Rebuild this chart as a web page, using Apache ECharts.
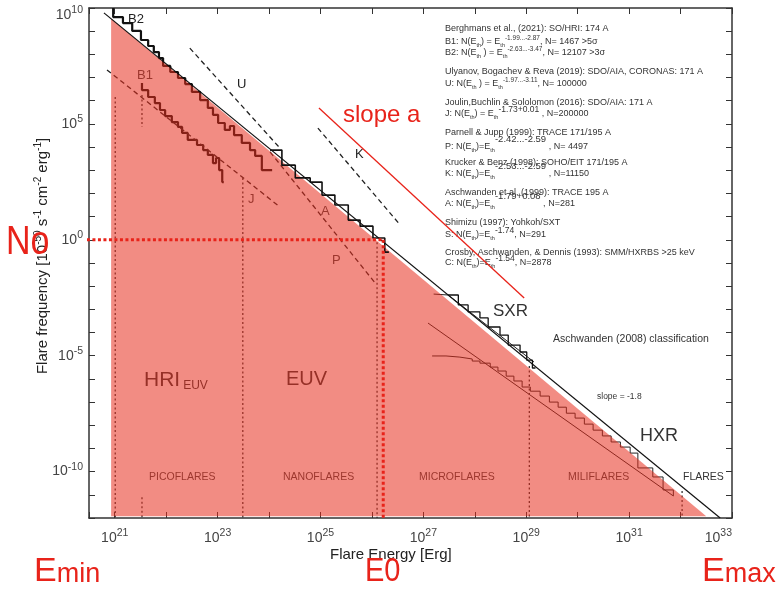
<!DOCTYPE html>
<html><head><meta charset="utf-8">
<script src="https://cdn.jsdelivr.net/npm/echarts@6/dist/echarts.min.js"></script>
<style>html,body{margin:0;padding:0;background:#fff}#c{width:776px;height:591px}</style>
</head><body><div id="c"></div>
<script>
// All values are log10 units: x = log10(E [erg]), y = log10(N)
const xTickLabels = [21, 23, 25, 27, 29, 31, 33];
const yTickLabels = [10, 5, 0, -5, -10];

// shaded power-law area  (Emin, Emax)
const fillE = [20.93, 20.93, 32.50];
const fillN = [-11.92, 9.55, -11.92];
// characteristic point
const E0 = 26.22, N0 = 0;
const EleftEdge = 20.46, Nbottom = -12;

// slope = -1.8 reference line
const refE = [20.79, 32.77];
const refN = [9.79, -12.0];
// red "slope a" line
const slopeAE = [24.97, 28.96];
const slopeAN = [5.69, -2.51];

// B2 histogram (bin left edges / values)
const b2E = [20.97,20.97,21.16,21.34,21.51,21.65,21.76,21.86,21.94,22.08,22.23,22.37,22.50,22.66,22.81,22.91,23.01,23.14,23.24,23.32,23.47,23.63,23.73,23.86,24.06];
const b2N = [10.0,9.61,9.35,9.01,8.62,8.36,8.10,7.84,7.50,7.24,6.98,6.72,6.38,6.03,5.69,5.39,5.04,4.74,4.91,4.52,4.18,3.87,3.62,3.01,3.01];
// B1 histogram
const b1E = [21.53,21.53,21.65,21.78,21.88,21.98,22.11,22.23,22.31,22.42,22.60,22.72,22.81,22.91,22.97,23.03,23.09,23.12];
const b1N = [6.76,6.46,6.16,5.90,5.60,5.34,5.08,4.87,4.61,4.31,4.09,3.87,3.66,3.31,3.53,3.01,2.49,2.49];
// A histogram
const aE = [24.02,24.25,24.51,24.80,25.03,25.28,25.54,25.77,26.02,26.25,26.33];
const aN = [3.87,3.22,2.67,2.49,1.93,1.50,0.85,0.59,0.08,-0.53,-0.53];
// SXR histogram and fit
const sxrE = [27.48,27.68,27.87,28.10,28.26,28.49,28.65,28.88,29.01,29.12,29.18];
const sxrN = [-2.38,-2.81,-3.11,-3.37,-3.76,-4.11,-4.54,-4.84,-5.19,-5.53,-5.53];
const sxrFitE = [27.20, 27.48, 29.15];
const sxrFitN = [-2.34, -2.38, -5.27];
// HXR histogram and C line
const hxrE = [27.17,27.44,27.71,27.95,28.10,28.30,28.45,28.61,28.76,28.92,29.08,29.27,29.45,29.62,29.78,29.95,30.13,30.30,30.48,30.65,30.83,31.02,31.17,31.46,31.66,31.86];
const hxrN = [-5.01,-5.06,-5.14,-5.23,-5.32,-5.49,-5.66,-5.88,-6.09,-6.35,-6.53,-6.74,-7.00,-7.22,-7.48,-7.69,-7.95,-8.21,-8.46,-8.72,-8.94,-9.20,-9.84,-10.23,-10.79,-11.05];
const cE = [27.09, 31.86];
const cN = [-3.59, -11.05];
// dashed power laws
const uE = [22.46, 24.21], uN = [8.27, 3.96];
const kE = [24.95, 26.55], kN = [4.82, 0.64];
const jE = [20.85, 24.21], jN = [7.33, 1.42];
const pE = [24.02, 26.08], pN = [3.79, -1.91];
// dotted vertical boundaries
const vdE   = [21.01, 21.53, 21.53, 23.49, 26.10, 29.06, 32.03];
const vdTop = [6.16, 6.25, -11.10, 2.67, -0.10, -5.44, -10.84];
const vdBot = [-12, 4.87, -12, -12, -12, -12, -12];

const FF = 'Liberation Sans, Arial, Helvetica, sans-serif';
const INK = '#333';
const RED = '#e8231a';

function pl(E, N, lineStyle, z, extra) {
  return Object.assign({
    type: 'line', data: E.map((e, i) => [e, N[i]]), symbol: 'none', showSymbol: false,
    silent: true, animation: false, z: z, lineStyle: lineStyle
  }, extra || {});
}

const series = [];
// under-fill items (z 2)
series.push(pl(b2E, b2N, {color:'#111', width:2.2}, 2, {step:'end'}));
series.push(pl(b1E, b1N, {color:'#111', width:2.2}, 2, {step:'end'}));
series.push(pl(hxrE, hxrN, {color:'#222', width:1}, 2, {step:'end'}));
series.push(pl(cE, cN, {color:'#222', width:1}, 2));
series.push(pl(sxrFitE, sxrFitN, {color:'#222', width:1}, 2));
series.push(pl(jE, jN, {color:'#222', width:1.3, type:[5,3.5]}, 2));
series.push(pl(pE, pN, {color:'#222', width:1.3, type:[5,3.5]}, 2));
series.push(pl(uE, uN, {color:'#222', width:1.3, type:[5,3.5]}, 2));
series.push(pl(kE, kN, {color:'#222', width:1.3, type:[5,3.5]}, 2));
vdE.forEach((e, i) => {
  series.push(pl([e, e], [vdTop[i], vdBot[i]], {color:'#333', width:1.3, type:[2,2.5]}, 2));
});
// fill
series.push({
  type: 'custom', z: 3, silent: true, animation: false,
  data: [[fillE[0], fillN[0]]], encode: {x: 0, y: 1},
  renderItem: (params, api) => ({
    type: 'polygon',
    shape: {points: fillE.map((e, i) => api.coord([e, fillN[i]]))},
    style: {fill: 'rgba(231,46,30,0.55)'}
  })
});
// above fill
series.push(pl(refE, refN, {color:'#111', width:1.2}, 4));
series.push(pl(aE, aN, {color:'#111', width:1.6}, 4, {step:'end'}));
series.push(pl(sxrE, sxrN, {color:'#111', width:1.3}, 4, {step:'end'}));
series.push(pl(slopeAE, slopeAN, {color:RED, width:1.3}, 5));
series.push(pl([EleftEdge, E0], [N0, N0], {color:RED, width:3, type:[3,2.5]}, 5, {clip:false}));
series.push(pl([E0, E0], [N0, Nbottom], {color:RED, width:3, type:[3,2.5]}, 5));

const axLine = {show: true, onZero: false, lineStyle: {color: '#333', width: 1.5}};
const axTick = {show: true, inside: true, length: 6, lineStyle: {color: '#333', width: 1}};
const supRich = {
  b: {fontSize: 14, fontFamily: FF, color: '#444', lineHeight: 18},
  s: {fontSize: 10.5, fontFamily: FF, color: '#444', lineHeight: 10, padding: [0,0,9,0]},
  bt: {fontSize: 14, fontFamily: FF, color: '#444', lineHeight: 18, padding: [14,0,0,0]},
  st: {fontSize: 10.5, fontFamily: FF, color: '#444', lineHeight: 10, padding: [14,0,9,0]}
};

function isInt(v) { return Math.abs(v - Math.round(v)) < 1e-6; }

const option = {
  animation: false,
  backgroundColor: '#fff',
  grid: {left: 89, right: 44, top: 8, bottom: 73, containLabel: false, outerBoundsMode: 'none'},
  xAxis: [{
    type: 'value', min: 20.5, max: 33, splitNumber: 12, position: 'bottom',
    axisLine: axLine, axisTick: axTick, splitLine: {show: false},
    axisLabel: {
      margin: 11, rich: supRich, alignMaxLabel: 'right',
      formatter: v => (isInt(v) && xTickLabels.includes(Math.round(v))) ? '{b|10}{s|' + Math.round(v) + '}' : ''
    }
  }, {
    type: 'value', min: 20.5, max: 33, splitNumber: 12, position: 'top',
    axisLine: axLine, axisTick: axTick, splitLine: {show: false}, axisLabel: {show: false}
  }],
  yAxis: [{
    type: 'value', min: -12, max: 10, interval: 1, position: 'left',
    axisLine: axLine, axisTick: axTick, splitLine: {show: false},
    axisLabel: {
      margin: 6, rich: supRich,
      formatter: v => {
        if (!isInt(v) || !yTickLabels.includes(Math.round(v))) return '';
        const r = Math.round(v);
        return r === 10 ? '{bt|10}{st|10}' : '{b|10}{s|' + r + '}';
      }
    }
  }, {
    type: 'value', min: -12, max: 10, interval: 1, position: 'right',
    axisLine: axLine, axisTick: axTick, splitLine: {show: false}, axisLabel: {show: false}
  }],
  series: series
};

// ---- text annotations ----
const legendLines = [
  'Berghmans et al., (2021): SO/HRI: 174 A',
  'B1: N(E{sb|th}) = E{sb|th}{sp|-1.99...-2.87}, N= 1467 >5σ',
  'B2: N(E{sb|th} ) = E{sb|th}{sp|-2.63...-3.47}, N= 12107 >3σ',
  'Ulyanov, Bogachev & Reva (2019): SDO/AIA, CORONAS: 171 A',
  'U: N(E{sb|th} ) = E{sb|th}{sp|-1.97...-3.11}, N= 100000',
  'Joulin,Buchlin & Sololomon (2016): SDO/AIA: 171 A',
  'J: N(E{sb|th}) = E{sb|th}{sp1|-1.73+0.01} , N=200000',
  'Parnell & Jupp (1999): TRACE 171/195 A',
  'P: N(E{sb|th})=E{sb|th}{sp2|-2.42...-2.59} , N= 4497',
  'Krucker & Benz (1998): SOHO/EIT 171/195 A',
  'K: N(E{sb|th})=E{sb|th}{sp2|-2.53...-2.59} , N=11150',
  'Aschwanden et al. (1999): TRACE 195 A',
  'A: N(E{sb|th})=E{sb|th}{sp2|-1.79+0.08} , N=281',
  'Shimizu (1997): Yohkoh/SXT',
  'S: N(E{sb|th})=E{sb|th}{sp1|-1.74}, N=291',
  'Crosby, Aschwanden, & Dennis (1993): SMM/HXRBS >25 keV',
  'C: N(E{sb|th})=E{sb|th}{sp1|-1.54}, N=2878'
];
const legendY = [29, 42, 53, 72, 84, 103, 114, 133, 147, 163, 174, 193, 204, 223, 235, 253, 263];

const legRich = {
  sb: {fontSize: 5.5, fontFamily: FF, fill: INK, lineHeight: 6, padding: [7,0,0,0]},
  sp: {fontSize: 6.5, fontFamily: FF, fill: INK, lineHeight: 7, padding: [0,0,7,0]},
  sp1: {fontSize: 8.5, fontFamily: FF, fill: INK, lineHeight: 9, padding: [0,0,9,0]},
  sp2: {fontSize: 9.5, fontFamily: FF, fill: INK, lineHeight: 10, padding: [0,0,16,0]}
};

function T(x, y, text, size, color, opt) {
  opt = opt || {};
  return {
    type: 'text', x: x, y: y, z: opt.z != null ? opt.z : 1, rotation: opt.rotation || 0,
    scaleX: opt.scaleX || 1, silent: true,
    style: {
      text: text, fill: color, fontSize: size, fontFamily: FF,
      align: opt.align || 'left', textAlign: opt.align || 'left',
      verticalAlign: opt.va || 'middle', textVerticalAlign: opt.va || 'middle',
      lineHeight: opt.lh || undefined, rich: opt.rich || undefined
    }
  };
}

const graphics = [];
legendLines.forEach((s, i) => graphics.push(T(445, legendY[i], s, 9, INK, {rich: legRich, lh: 12})));

graphics.push(T(128, 19, 'B2', 13, '#222'));
graphics.push(T(137, 75, 'B1', 13, '#444'));
graphics.push(T(237, 84, 'U', 13, '#222'));
graphics.push(T(355, 154, 'K', 13, '#222'));
graphics.push(T(248, 199, 'J', 13, '#444'));
graphics.push(T(321, 211, 'A', 13, '#444'));
graphics.push(T(332, 260, 'P', 13, '#444'));
graphics.push(T(493, 311, 'SXR', 17, '#333'));
graphics.push(T(640, 436, 'HXR', 18, '#333'));
graphics.push(T(553, 339, 'Aschwanden (2008) classification', 10.5, '#333'));
graphics.push(T(597, 397, 'slope = -1.8', 8.5, '#333'));
graphics.push(T(144, 380, 'HRI{e|EUV}', 21, '#333', {rich: {e: {fontSize: 12, fontFamily: FF, fill: '#333', lineHeight: 12, padding: [12,0,0,3]}}}));
graphics.push(T(286, 379, 'EUV', 20, '#333'));
graphics.push(T(149, 477, 'PICOFLARES', 10.5, '#444'));
graphics.push(T(283, 477, 'NANOFLARES', 10.5, '#444'));
graphics.push(T(419, 477, 'MICROFLARES', 10.5, '#444'));
graphics.push(T(568, 477, 'MILIFLARES', 10.5, '#444'));
graphics.push(T(683, 477, 'FLARES', 10.5, '#333'));
// axis titles
graphics.push(T(330, 555, 'Flare Energy [Erg]', 15, '#222'));
graphics.push(T(43, 256, 'Flare frequency [10{sp|-50} s{sp|-1} cm{sp|-2} erg{sp|-1}]', 15, '#222', {
  align: 'center', rotation: Math.PI / 2,
  rich: {sp: {fontSize: 10, fontFamily: FF, fill: '#222', lineHeight: 10, padding: [0,0,10,0]}}
}));
// red annotations
graphics.push(T(343, 115, 'slope a', 24, RED, {z: 10}));
graphics.push(T(6, 243, 'No', 40, RED, {z: 10, scaleX: 0.85}));
const redRich = {s: {fontSize: 27, fontFamily: FF, fill: RED, lineHeight: 27, padding: [6,0,0,0]}};
graphics.push(T(34, 572, 'E{s|min}', 34, RED, {z: 10, rich: redRich, lh: 34}));
graphics.push(T(365, 572, 'E0', 33, RED, {z: 10, scaleX: 0.88}));
graphics.push(T(702, 572, 'E{s|max}', 34, RED, {z: 10, rich: redRich, lh: 34}));

option.graphic = {elements: graphics};

const chart = echarts.init(document.getElementById('c'), null, {renderer: 'canvas'});
chart.setOption(option);
</script>
</body></html>
